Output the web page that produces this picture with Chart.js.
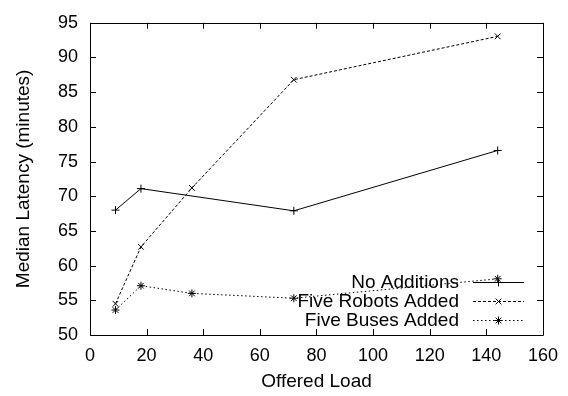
<!DOCTYPE html>
<html>
<head>
<meta charset="utf-8">
<script src="https://cdn.jsdelivr.net/npm/chart.js@4.4.1/dist/chart.umd.min.js"></script>
<style>
  html, body { margin: 0; padding: 0; background: #fff; }
  #wrap { width: 568px; height: 396px; }
</style>
</head>
<body>
<div id="wrap"><canvas id="chart" width="568" height="396"></canvas></div>
<script>
// values
const noAdditionsLoad = [9, 18, 72, 144];
const noAdditions = [68.0, 71.1, 67.9, 76.6];
const robotsLoad = [9, 18, 36, 72, 144];
const robotsAdded = [54.5, 62.7, 71.2, 86.8, 93.05];
const busesLoad = [9, 18, 36, 72, 144];
const busesAdded = [53.6, 57.1, 56.0, 55.3, 58.1];

const xTicks = [0, 20, 40, 60, 80, 100, 120, 140, 160];
const yTicks = [50, 55, 60, 65, 70, 75, 80, 85, 90, 95];

const FONT = 'Liberation Sans, Arial, Helvetica, sans-serif';
const TICK_SIZE = 18;
const TEXT_SIZE = 19;

const toPoints = (xs, ys) => xs.map((x, i) => ({ x: x, y: ys[i] }));

// gnuplot-style frame with inward ticks on all four sides
const framePlugin = {
  id: 'frame',
  afterDatasetsDraw(chart) {
    const { ctx, chartArea: a, scales } = chart;
    ctx.save();
    ctx.strokeStyle = '#000';
    ctx.lineWidth = 1;
    ctx.beginPath();
    ctx.rect(Math.round(a.left) + 0.5, Math.round(a.top) + 0.5,
             Math.round(a.right - a.left), Math.round(a.bottom - a.top));
    const len = 6;
    xTicks.forEach(v => {
      const px = Math.round(scales.x.getPixelForValue(v)) + 0.5;
      ctx.moveTo(px, a.bottom); ctx.lineTo(px, a.bottom - len);
      ctx.moveTo(px, a.top); ctx.lineTo(px, a.top + len);
    });
    yTicks.forEach(v => {
      const py = Math.round(scales.y.getPixelForValue(v)) + 0.5;
      ctx.moveTo(a.left, py); ctx.lineTo(a.left + len, py);
      ctx.moveTo(a.right, py); ctx.lineTo(a.right - len, py);
    });
    ctx.stroke();
    ctx.restore();
  }
};

// key in the lower right: right-aligned title, then a line sample with marker
const keyPlugin = {
  id: 'key',
  afterDatasetsDraw(chart) {
    const { ctx } = chart;
    const textRight = 459, x0 = 473, x1 = 524, rows = [282, 301, 320];
    ctx.save();
    ctx.font = TEXT_SIZE + 'px ' + FONT;
    ctx.fillStyle = '#000';
    ctx.textAlign = 'right';
    ctx.textBaseline = 'middle';
    chart.data.datasets.forEach((ds, i) => {
      const y = rows[i];
      ctx.fillText(ds.label, textRight, y + 1);
      ctx.strokeStyle = '#000';
      ctx.lineWidth = 1;
      ctx.setLineDash(ds.borderDash || []);
      ctx.beginPath();
      ctx.moveTo(x0, y + 0.5); ctx.lineTo(x1, y + 0.5);
      ctx.stroke();
      ctx.setLineDash([]);
      Chart.helpers.drawPoint(ctx, {
        pointStyle: ds.pointStyle, radius: ds.pointRadius, borderWidth: 1, rotation: 0
      }, (x0 + x1) / 2, y + 0.5);
    });
    ctx.restore();
  }
};

new Chart(document.getElementById('chart'), {
  type: 'line',
  data: {
    datasets: [
      {
        label: 'No Additions',
        data: toPoints(noAdditionsLoad, noAdditions),
        borderColor: '#000', backgroundColor: '#000', borderWidth: 1,
        pointStyle: 'cross', pointRadius: 4, pointBorderWidth: 1
      },
      {
        label: 'Five Robots Added',
        data: toPoints(robotsLoad, robotsAdded),
        borderColor: '#000', backgroundColor: '#000', borderWidth: 1,
        borderDash: [3, 2],
        pointStyle: 'crossRot', pointRadius: 4, pointBorderWidth: 1
      },
      {
        label: 'Five Buses Added',
        data: toPoints(busesLoad, busesAdded),
        borderColor: '#000', backgroundColor: '#000', borderWidth: 1,
        borderDash: [1.5, 2.5],
        pointStyle: 'star', pointRadius: 4, pointBorderWidth: 1
      }
    ]
  },
  options: {
    responsive: false,
    animation: false,
    devicePixelRatio: 1,
    clip: false,
    layout: { padding: { left: 0, right: 21, top: 12, bottom: 0 } },
    elements: { line: { tension: 0 } },
    plugins: { legend: { display: false }, tooltip: { enabled: false } },
    scales: {
      x: {
        type: 'linear', min: 0, max: 160,
        afterBuildTicks: s => { s.ticks = xTicks.map(v => ({ value: v })); },
        afterFit: s => { s.height = 61; },
        grid: { display: false, drawTicks: false },
        border: { display: false },
        ticks: { color: '#000', font: { family: FONT, size: TICK_SIZE }, padding: 10, maxRotation: 0 },
        title: { display: true, text: 'Offered Load', color: '#000',
                 font: { family: FONT, size: TEXT_SIZE }, padding: { top: 0, bottom: 3 } }
      },
      y: {
        type: 'linear', min: 50, max: 95,
        afterBuildTicks: s => { s.ticks = yTicks.map(v => ({ value: v })); },
        afterFit: s => { s.width = 90; },
        grid: { display: false, drawTicks: false },
        border: { display: false },
        ticks: { color: '#000', font: { family: FONT, size: TICK_SIZE }, padding: 12 },
        title: { display: true, text: 'Median Latency (minutes)', color: '#000',
                 font: { family: FONT, size: TEXT_SIZE }, padding: { top: 12, bottom: 0 } }
      }
    }
  },
  plugins: [framePlugin, keyPlugin]
});
</script>
</body>
</html>
